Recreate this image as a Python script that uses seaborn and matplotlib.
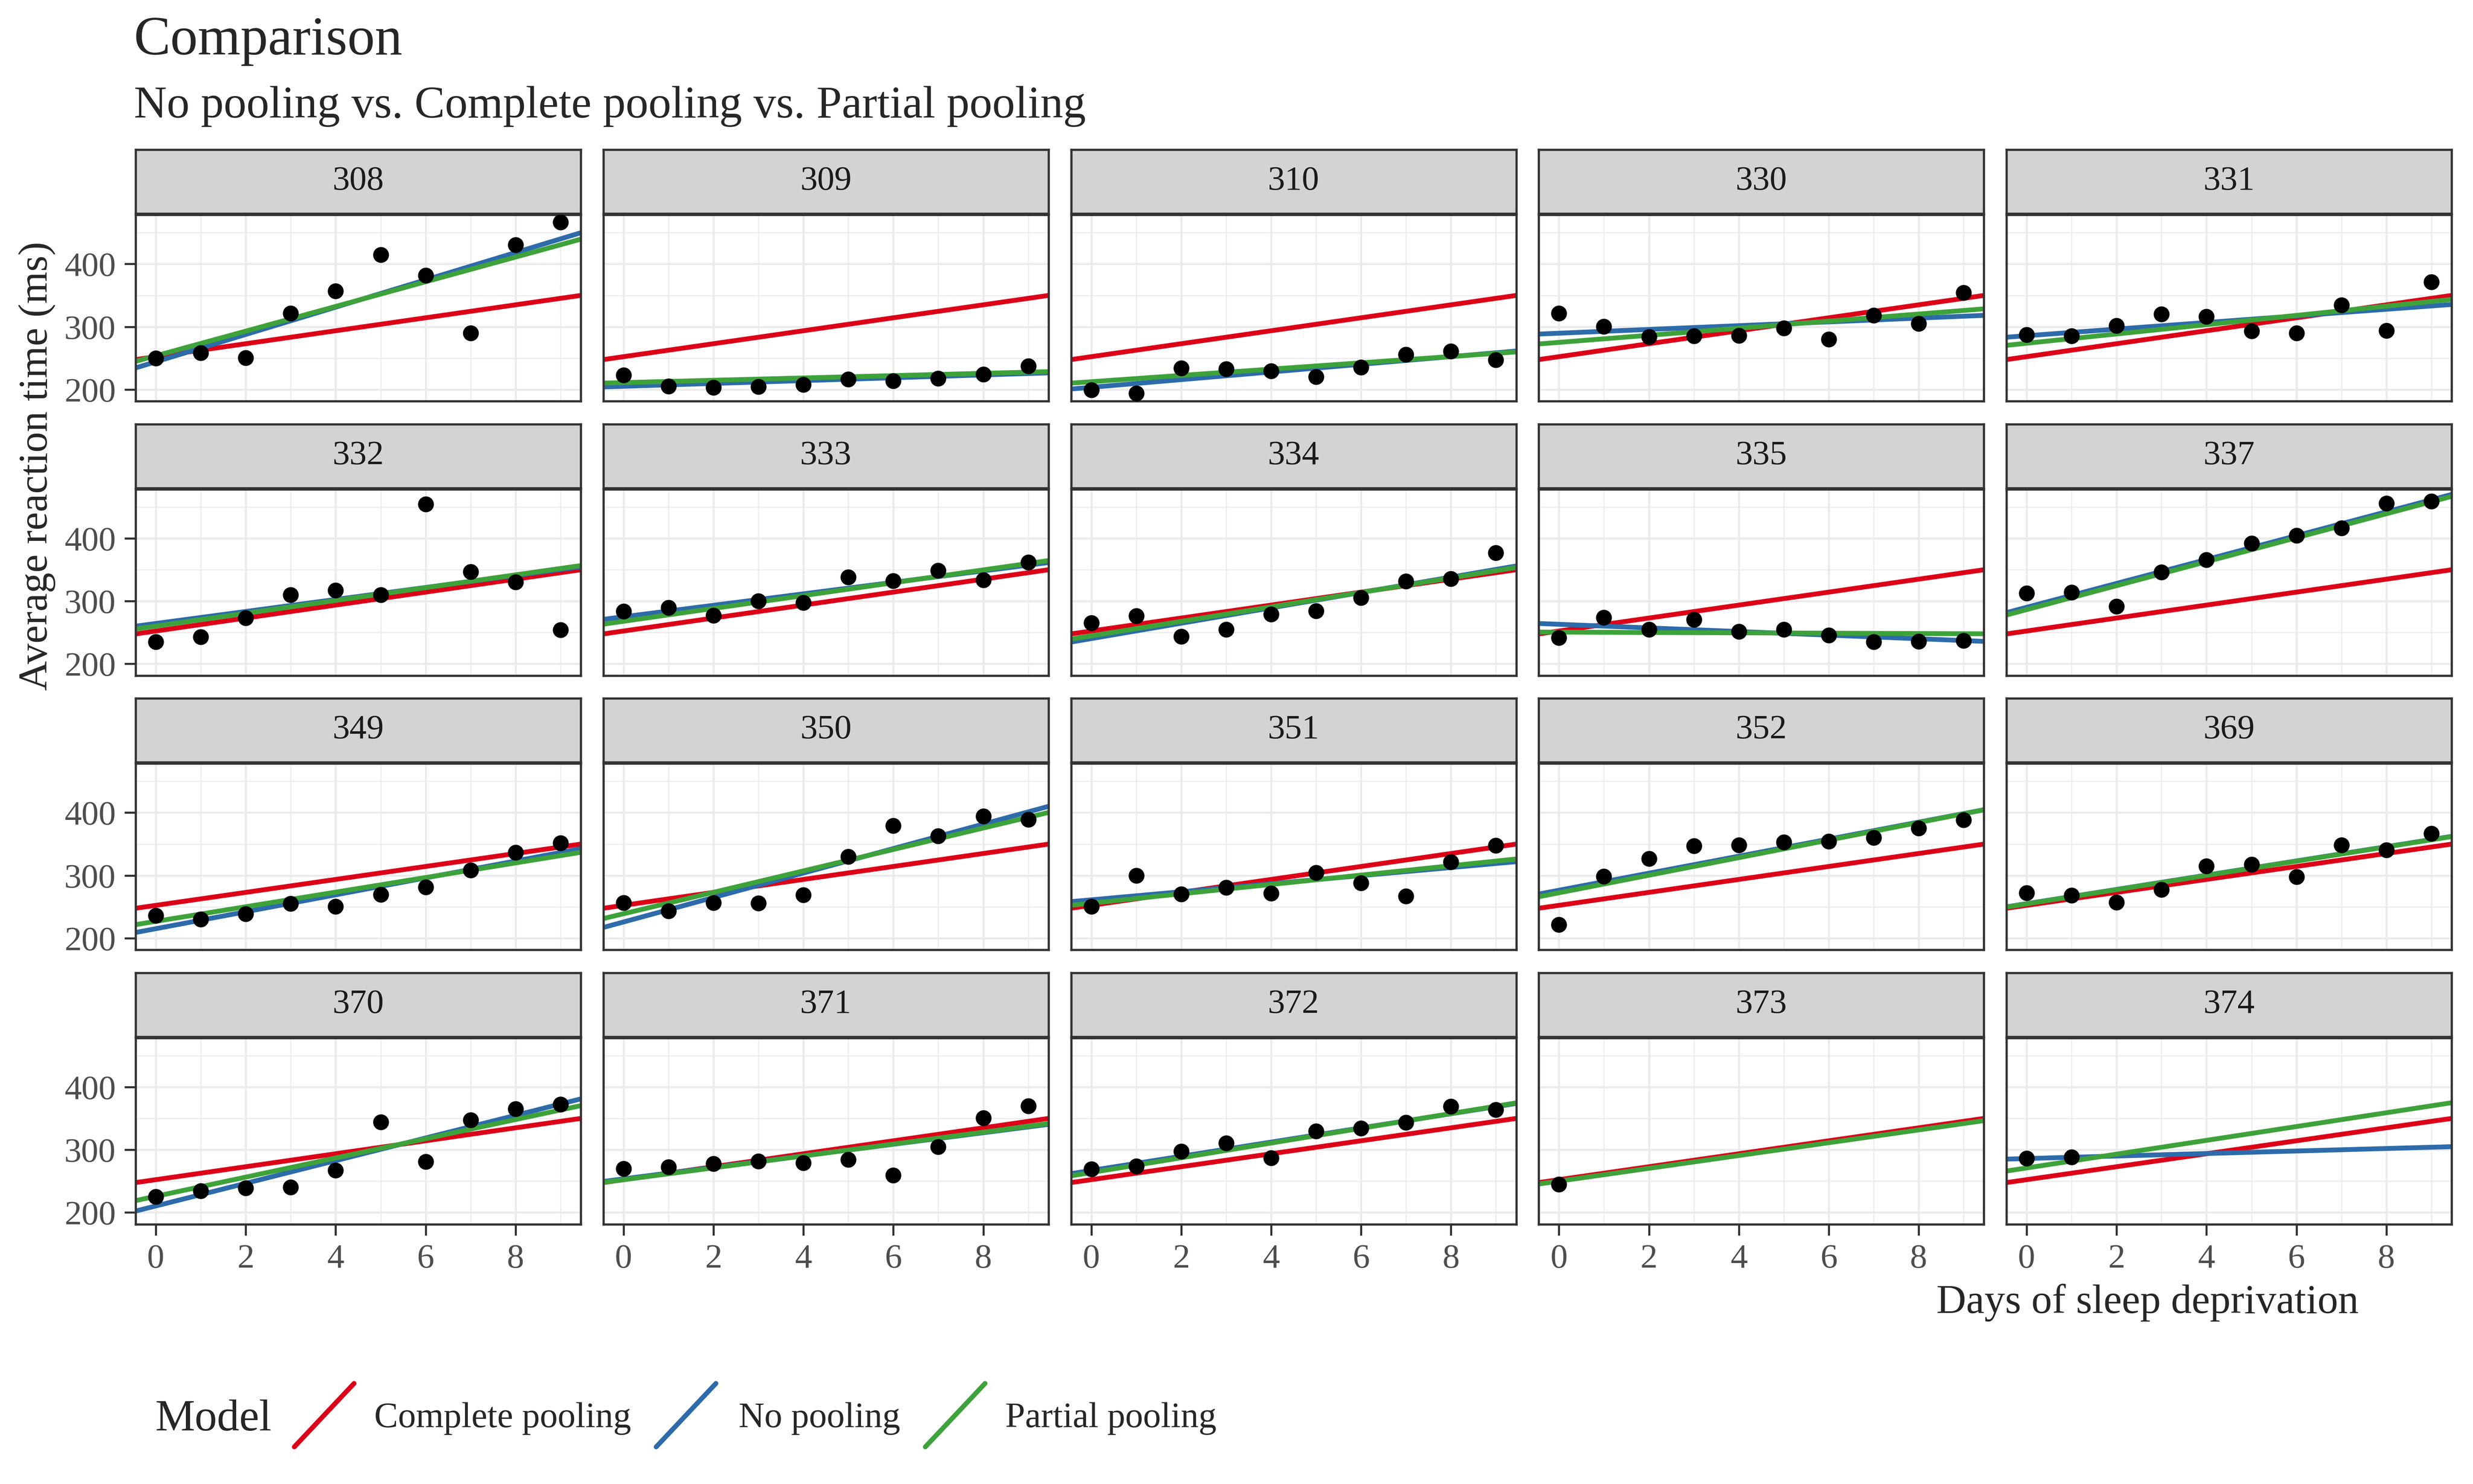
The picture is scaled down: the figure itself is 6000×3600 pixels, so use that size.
import pandas as pd
import matplotlib.pyplot as plt
import seaborn as sns
from matplotlib.lines import Line2D

# Sleep study: average reaction time per day of sleep deprivation
subjects = ['308', '309', '310', '330', '331', '332', '333', '334', '335', '337',
            '349', '350', '351', '352', '369', '370', '371', '372', '373', '374']
days = [0, 1, 2, 3, 4, 5, 6, 7, 8, 9]
reaction = [
    [249.6, 258.7, 250.8, 321.4, 356.9, 414.7, 382.2, 290.1, 430.6, 466.4],
    [222.7, 205.3, 203.0, 204.7, 207.7, 216.0, 213.6, 217.7, 224.3, 237.3],
    [199.1, 194.3, 234.3, 232.8, 229.3, 220.5, 235.4, 255.8, 261.0, 247.5],
    [321.5, 300.4, 283.9, 285.1, 285.8, 297.6, 280.2, 318.3, 305.3, 354.0],
    [287.6, 285.0, 301.8, 320.1, 316.3, 293.3, 290.1, 334.8, 293.7, 371.6],
    [234.9, 242.8, 273.0, 309.8, 317.5, 310.0, 454.2, 346.8, 330.3, 253.9],
    [283.8, 289.6, 276.8, 299.8, 297.2, 338.2, 332.0, 348.8, 333.4, 362.0],
    [265.5, 276.2, 243.4, 254.7, 279.0, 284.2, 305.5, 331.5, 335.7, 377.3],
    [241.6, 273.9, 254.5, 270.8, 251.5, 254.6, 245.5, 235.3, 235.8, 237.2],
    [312.4, 313.8, 291.6, 346.1, 365.7, 391.8, 404.3, 416.7, 455.9, 458.9],
    [236.1, 230.3, 238.9, 254.9, 250.7, 269.8, 281.6, 308.1, 336.3, 351.6],
    [256.3, 243.5, 256.2, 255.5, 268.9, 329.7, 379.4, 362.9, 394.5, 389.1],
    [250.5, 300.1, 269.9, 280.6, 271.8, 304.6, 287.7, 266.6, 321.5, 347.6],
    [221.7, 298.2, 326.9, 346.9, 348.7, 352.8, 354.4, 360.4, 375.6, 388.5],
    [271.9, 268.4, 257.2, 277.7, 314.8, 317.2, 298.1, 348.1, 340.3, 366.5],
    [225.3, 234.5, 238.9, 240.5, 267.5, 344.2, 281.1, 347.6, 365.2, 372.2],
    [269.9, 272.4, 277.9, 281.8, 279.2, 284.5, 259.3, 304.6, 350.8, 369.5],
    [269.4, 273.5, 297.6, 310.6, 287.2, 329.6, 334.5, 343.2, 369.1, 364.1],
    [245.0],
    [286.0, 288.0],
]

# fitted lines (intercept, slope per subject)
complete_int = 252.3
complete_slope = 10.33
nopool_int = [244.2, 205.1, 203.5, 289.7, 285.7, 264.3, 275.0, 240.2, 263.0, 290.1,
              215.1, 225.8, 261.1, 276.4, 255.0, 210.4, 253.6, 267.0, None, 286.0]
nopool_slope = [21.76, 2.26, 6.11, 3.01, 5.27, 9.57, 9.14, 12.25, -2.88, 19.03,
                13.49, 19.50, 6.43, 13.57, 11.35, 18.06, 9.19, 11.30, None, 2.0]
partial_int = [253.7, 211.0, 212.4, 275.1, 273.7, 260.2, 267.8, 244.6, 250.5, 286.4,
               226.8, 238.9, 255.8, 272.3, 254.7, 225.8, 252.2, 263.7, 250.0, 271.0]
partial_slope = [19.67, 1.85, 5.02, 5.65, 7.40, 10.20, 10.24, 11.54, -0.28, 19.10,
                 11.64, 17.08, 7.45, 14.00, 11.34, 15.29, 9.48, 11.75, 10.2, 11.0]

models = ['Complete pooling', 'No pooling', 'Partial pooling']
model_colors = ['#DC0018', '#2D6BAA', '#3EA23A']

rows = []
for s, r in zip(subjects, reaction):
    for d, v in zip(days, r):
        rows.append({'Subject': s, 'Days': d, 'Reaction': v})
df = pd.DataFrame(rows)

sns.set_theme(style='white')
plt.rcParams['font.family'] = ['Liberation Serif', 'DejaVu Serif']

W, H = 6000, 3600
fig = plt.figure(figsize=(20, 12), dpi=300)


def fx(px):
    return px / W


def fy(py):
    return 1 - py / H


panel_w, panel_h, strip_h = 1080, 452, 155
dark = '#333333'

for i, s in enumerate(subjects):
    row, col = i // 5, i % 5
    left = 329 + col * 1134.75
    strip_top = 363 + row * 665.5
    panel_top = strip_top + strip_h + 3

    # strip
    sax = fig.add_axes([fx(left), fy(strip_top + strip_h), fx(panel_w), strip_h / H])
    sax.set_facecolor('#D3D3D3')
    sax.set_xticks([])
    sax.set_yticks([])
    for sp in sax.spines.values():
        sp.set_color(dark)
        sp.set_linewidth(1.3)
    sax.text(0.5, 0.5, s, ha='center', va='center', fontsize=20, color='#1A1A1A',
             transform=sax.transAxes)

    ax = fig.add_axes([fx(left), fy(panel_top + panel_h), fx(panel_w), panel_h / H])
    ax.set_facecolor('white')
    ax.set_xlim(-0.45, 9.45)
    ax.set_ylim(181.5, 478.5)
    ax.set_xticks([0, 2, 4, 6, 8])
    ax.set_xticks([1, 3, 5, 7, 9], minor=True)
    ax.set_yticks([200, 300, 400])
    ax.set_yticks([250, 350, 450], minor=True)
    ax.grid(which='major', color='#EBEBEB', linewidth=1.2)
    ax.grid(which='minor', color='#EBEBEB', linewidth=0.6)
    ax.set_axisbelow(True)
    for sp in ax.spines.values():
        sp.set_color(dark)
        sp.set_linewidth(1.3)

    # model lines: complete, no pooling, partial
    ax.axline((0, complete_int), slope=complete_slope, color=model_colors[0], lw=2.8, zorder=2)
    if nopool_int[i] is not None:
        ax.axline((0, nopool_int[i]), slope=nopool_slope[i], color=model_colors[1], lw=2.8, zorder=2)
    ax.axline((0, partial_int[i]), slope=partial_slope[i], color=model_colors[2], lw=2.8, zorder=2)

    sns.scatterplot(data=df[df['Subject'] == s], x='Days', y='Reaction', ax=ax,
                    color='black', s=85, linewidth=0, zorder=3, legend=False)
    ax.set_xlabel('')
    ax.set_ylabel('')

    ax.tick_params(which='major', length=6.5, width=1.2, color=dark, labelsize=20,
                   labelcolor='#4D4D4D', pad=5,
                   left=(col == 0), labelleft=(col == 0),
                   bottom=(row == 3), labelbottom=(row == 3))
    ax.tick_params(which='minor', length=0)

# titles
fig.text(fx(325), fy(132), 'Comparison', fontsize=32, ha='left', va='baseline')
fig.text(fx(325), fy(285), 'No pooling vs. Complete pooling vs. Partial pooling',
         fontsize=26.5, ha='left', va='baseline')
fig.text(fx(90), fy(1130), 'Average reaction time (ms)', rotation=90, fontsize=24,
         ha='center', va='center')
fig.text(fx(5210), fy(3160), 'Days of sleep deprivation', fontsize=24,
         ha='center', va='center')

# legend
fig.text(fx(377), fy(3470), 'Model', fontsize=26, ha='left', va='baseline')
key_x = [714, 1592, 2245]
label_x = [908, 1792, 2439]
for m, c, kx, lx in zip(models, model_colors, key_x, label_x):
    fig.add_artist(Line2D([fx(kx), fx(kx + 145)], [fy(3510), fy(3356)],
                          transform=fig.transFigure, color=c, lw=2.8))
    fig.text(fx(lx), fy(3462), m, fontsize=20.8, ha='left', va='baseline')

fig.savefig('out.png', dpi=300, facecolor='white')
